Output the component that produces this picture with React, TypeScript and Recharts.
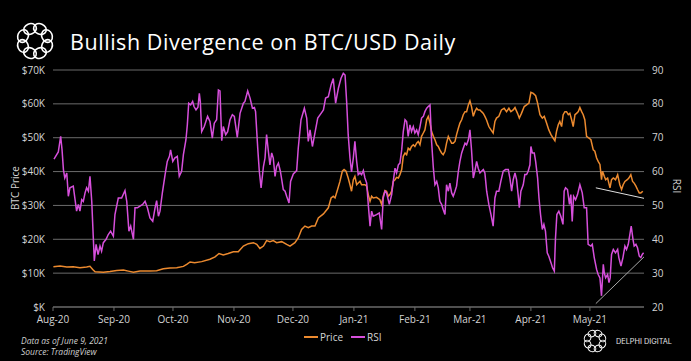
import React from 'react';
import { LineChart, Line, XAxis, YAxis, CartesianGrid, ReferenceLine } from 'recharts';

// X axis: days since 1 Aug 2020
const monthTickDays = [0, 31, 61, 92, 122, 153, 184, 212, 243, 273];
const monthTickLabels = ['Aug-20', 'Sep-20', 'Oct-20', 'Nov-20', 'Dec-20', 'Jan-21', 'Feb-21', 'Mar-21', 'Apr-21', 'May-21'];
const priceTicksK = [0, 10, 20, 30, 40, 50, 60, 70];
const rsiTicks = [20, 30, 40, 50, 60, 70, 80, 90];

const rsiDays = [
  0.5, 2.7, 3.9, 4.6, 5.3, 6.0, 7.0, 7.8, 8.6, 10.3, 12.0, 12.9, 13.7, 14.6, 15.4, 16.3, 17.1, 18.0, 18.8, 19.7,
  20.5, 21.0, 21.9, 22.9, 23.9, 24.7, 25.6, 27.0, 28.1, 29.3, 30.7, 31.5, 33.2, 34.9, 36.6, 37.5, 38.6, 39.5, 40.9, 41.7,
  42.9, 44.2, 45.6, 46.8, 48.0, 49.3, 50.7, 51.9, 52.7, 53.6, 54.4, 55.6, 57.0, 58.1, 59.2, 59.8, 60.9, 61.9, 63.2, 64.2,
  65.4, 66.3, 67.6, 68.3, 69.0, 70.0, 71.0, 71.7, 72.7, 73.7, 74.4, 74.9, 75.6, 76.9, 78.6, 79.8, 81.0, 82.0, 83.2, 84.1,
  84.9, 85.8, 86.6, 87.8, 88.8, 90.0, 91.2, 92.2, 93.7, 95.1, 96.8, 97.6, 99.0, 100.2, 101.4, 102.4, 103.0, 104.1, 104.9, 105.8,
  107.0, 107.8, 108.6, 109.5, 110.3, 111.2, 112.0, 112.9, 113.7, 114.6, 115.6, 116.3, 117.1, 118.0, 118.8, 120.0, 120.8, 122.2, 123.9, 124.7,
  126.1, 127.8, 129.0, 129.8, 130.7, 131.9, 133.2, 134.6, 136.3, 137.5, 138.6, 140.0, 141.4, 142.5, 143.7, 145.1, 146.4, 147.6, 148.5, 149.3,
  150.1, 151.0, 151.8, 152.7, 153.5, 154.4, 155.2, 156.1, 156.9, 157.8, 158.6, 159.5, 160.3, 161.2, 162.0, 162.8, 164.5, 165.9, 167.1, 167.9,
  168.8, 169.6, 171.0, 172.2, 173.0, 173.9, 174.7, 175.6, 176.4, 177.3, 178.1, 179.0, 179.8, 180.6, 181.5, 182.3, 183.2, 184.0, 184.9, 185.7,
  186.6, 187.4, 188.3, 189.1, 190.0, 190.8, 191.7, 192.5, 193.4, 194.2, 195.1, 195.9, 196.7, 197.6, 198.4, 199.3, 200.1, 201.0, 201.8, 202.7,
  203.5, 204.4, 205.2, 206.1, 206.9, 207.8, 208.6, 209.5, 210.3, 211.2, 212.0, 212.8, 213.7, 214.5, 215.4, 216.2, 217.1, 217.9, 218.8, 219.6,
  220.5, 221.6, 222.7, 223.8, 224.7, 225.5, 226.7, 227.7, 228.9, 230.1, 231.5, 232.3, 233.2, 234.0, 234.9, 235.7, 236.5, 237.1, 237.9, 239.1,
  239.9, 240.8, 241.6, 242.5, 243.0, 243.7, 244.7, 245.4, 246.4, 247.1, 247.9, 248.8, 249.6, 250.4, 251.3, 252.1, 253.2, 254.0, 254.9, 255.5,
  256.2, 257.2, 258.2, 259.3, 259.9, 260.6, 261.6, 262.6, 263.3, 264.0, 264.7, 265.7, 266.7, 267.9, 269.1, 270.1, 271.3, 272.1, 273.5, 274.2,
  275.2, 276.4, 277.2, 278.1, 278.9, 279.8, 280.3, 281.0, 282.0, 282.7, 283.3, 284.0, 284.9, 286.0, 287.1, 287.7, 288.8, 289.8, 290.8, 291.6,
  292.5, 293.3, 294.0, 294.9, 295.5, 296.4, 297.2, 298.1, 298.9, 299.6, 300.3,
];
const rsiValues = [
  63.7, 65.8, 70.4, 66.4, 60.6, 58.1, 59.6, 52.7, 55.2, 55.7, 48.3, 50.3, 48.3, 51.7, 51.2, 53.7, 55.2, 54.2, 58.6, 51.2,
  40.4, 33.6, 38.5, 35.5, 38.0, 36.5, 39.0, 40.0, 41.4, 42.4, 40.9, 47.3, 52.2, 52.2, 54.4, 51.2, 42.4, 43.9, 40.0, 49.3,
  49.3, 49.8, 50.3, 51.2, 49.3, 46.3, 45.3, 49.3, 51.4, 46.8, 48.3, 53.7, 59.1, 63.0, 64.5, 66.4, 63.0, 64.0, 64.5, 58.6,
  60.1, 65.0, 69.4, 73.8, 80.2, 79.7, 80.7, 79.2, 78.2, 79.0, 83.1, 80.7, 71.8, 73.3, 76.3, 74.8, 69.9, 74.3, 75.3, 84.1,
  83.8, 69.1, 73.3, 70.9, 71.8, 75.3, 76.8, 76.3, 70.1, 77.2, 80.2, 80.7, 83.8, 81.7, 78.7, 78.9, 77.7, 66.9, 60.1, 55.2,
  61.5, 64.0, 70.9, 66.0, 62.0, 65.5, 64.0, 58.6, 61.5, 62.5, 60.1, 57.6, 54.7, 54.2, 52.7, 50.7, 57.1, 59.3, 60.3, 66.9,
  75.3, 78.7, 75.8, 68.9, 72.3, 67.4, 71.4, 75.8, 77.2, 78.2, 81.7, 82.1, 85.6, 87.5, 80.2, 84.6, 87.5, 89.0, 88.5, 80.7,
  70.9, 64.0, 59.9, 64.0, 68.9, 63.0, 59.1, 59.6, 59.1, 60.3, 58.1, 56.6, 50.3, 43.9, 48.3, 46.8, 47.3, 47.8, 42.9, 52.2,
  54.2, 53.7, 50.3, 53.2, 57.1, 61.0, 59.6, 62.0, 62.5, 66.4, 71.8, 75.3, 74.8, 70.4, 73.8, 71.8, 73.3, 71.4, 72.3, 70.9,
  73.3, 75.8, 76.3, 77.7, 78.7, 79.2, 79.7, 68.9, 61.0, 56.1, 57.1, 55.2, 51.2, 50.3, 48.8, 47.3, 56.1, 54.2, 56.6, 53.7,
  52.7, 54.2, 55.7, 60.1, 63.0, 65.5, 66.9, 68.4, 67.9, 69.4, 72.3, 66.4, 58.1, 60.1, 63.0, 61.0, 59.6, 60.1, 60.6, 59.6,
  54.2, 50.3, 47.3, 43.9, 52.2, 54.2, 54.2, 57.1, 60.1, 60.6, 60.6, 58.1, 54.2, 57.6, 59.6, 57.6, 53.2, 49.3, 54.2, 56.1,
  59.1, 59.1, 60.1, 62.0, 67.4, 65.5, 65.5, 63.0, 58.1, 52.2, 47.3, 42.9, 44.4, 42.4, 36.0, 35.0, 33.1, 31.6, 30.6, 40.4,
  47.3, 48.3, 46.8, 44.4, 54.2, 55.2, 54.7, 50.3, 53.2, 45.3, 52.7, 51.7, 53.2, 56.1, 53.7, 49.3, 49.3, 38.5, 38.0, 38.5,
  34.6, 31.1, 29.6, 28.6, 23.3, 32.6, 30.1, 28.6, 29.6, 27.2, 28.6, 35.5, 37.0, 36.0, 37.0, 34.6, 32.1, 34.6, 38.0, 37.0,
  38.5, 41.4, 43.9, 40.0, 38.0, 38.5, 37.5, 35.0, 34.6, 35.5, 36.0,
];

const priceDays = [
  0.2, 3.6, 7.0, 10.3, 13.7, 17.1, 18.8, 20.2, 21.4, 25.6, 29.0, 32.4, 35.8, 38.3, 40.9, 44.2, 49.3, 52.7, 56.1, 59.5,
  62.9, 66.3, 68.0, 69.7, 72.0, 75.6, 79.8, 82.4, 84.4, 86.6, 89.1, 91.7, 94.2, 96.8, 99.3, 101.9, 103.6, 105.2, 107.0, 108.6,
  110.3, 112.0, 113.7, 116.3, 118.8, 120.5, 123.0, 124.7, 126.4, 128.1, 129.8, 131.5, 133.2, 134.9, 137.5, 140.0, 141.4, 142.5, 143.4, 144.7,
  145.9, 147.1, 148.0, 149.0, 150.1, 151.0, 151.8, 152.7, 153.5, 154.4, 155.2, 156.1, 156.9, 158.6, 159.5, 160.3, 161.2, 162.0, 162.8, 164.5,
  166.2, 167.1, 167.9, 168.8, 169.6, 170.5, 171.3, 172.2, 173.0, 173.9, 174.7, 175.6, 176.4, 177.3, 178.1, 179.0, 179.8, 180.6, 181.5, 182.3,
  183.2, 184.0, 184.9, 185.7, 186.6, 187.4, 188.3, 189.1, 190.0, 190.8, 191.7, 192.5, 193.4, 194.2, 195.1, 195.9, 196.7, 197.6, 198.4, 199.3,
  200.1, 201.0, 201.8, 202.7, 203.5, 204.4, 205.2, 206.1, 206.9, 207.8, 208.6, 209.5, 210.3, 211.2, 212.0, 212.8, 213.7, 214.5, 215.4, 216.2,
  217.1, 217.9, 218.8, 219.6, 220.4, 221.6, 222.7, 223.8, 224.7, 225.5, 226.7, 228.0, 229.4, 230.6, 231.8, 232.8, 234.0, 234.9, 236.2, 237.1,
  238.2, 239.6, 240.8, 242.0, 243.0, 244.2, 245.4, 246.4, 247.6, 248.8, 249.8, 251.0, 252.1, 253.2, 254.3, 255.2, 256.0, 256.9, 257.7, 258.6,
  259.4, 260.3, 261.1, 262.0, 262.8, 263.7, 264.5, 265.4, 266.2, 267.1, 267.9, 268.8, 269.6, 270.4, 271.3, 272.5, 273.5, 274.7, 275.5, 276.4,
  277.2, 278.1, 278.9, 279.4, 280.3, 281.0, 282.0, 283.2, 284.0, 284.9, 286.0, 287.1, 288.2, 289.1, 289.9, 290.8, 292.0, 292.8, 293.8, 294.7,
  295.5, 296.4, 297.2, 298.1, 298.9, 299.9,
];
const priceK = [
  11.9, 12.1, 11.8, 11.9, 11.6, 11.8, 12.0, 11.1, 10.4, 10.3, 10.5, 10.8, 10.9, 10.6, 10.3, 10.6, 10.6, 10.7, 11.3, 11.5,
  11.6, 12.0, 12.6, 13.3, 13.1, 13.4, 14.1, 14.8, 15.8, 15.4, 15.8, 16.3, 16.3, 18.0, 18.7, 19.0, 18.5, 17.3, 18.0, 19.6,
  19.3, 19.6, 19.0, 19.3, 18.5, 18.0, 19.0, 20.4, 22.9, 23.9, 23.4, 23.9, 23.9, 26.3, 27.5, 29.3, 32.2, 32.7, 32.2, 34.7,
  37.1, 40.1, 40.6, 40.1, 38.1, 36.1, 34.2, 37.6, 38.6, 36.1, 36.6, 37.1, 36.1, 36.1, 35.7, 33.2, 31.2, 32.7, 32.2, 32.4,
  31.7, 30.3, 32.7, 34.4, 34.2, 32.7, 33.2, 34.2, 37.1, 37.6, 38.3, 38.1, 39.1, 40.6, 44.5, 45.5, 45.0, 46.9, 46.4, 47.4,
  47.9, 47.4, 48.4, 48.9, 47.9, 50.4, 51.4, 52.3, 55.3, 56.3, 54.3, 51.8, 50.4, 49.4, 47.9, 47.4, 46.4, 45.5, 45.0, 46.0,
  48.4, 50.4, 49.4, 48.4, 48.4, 48.9, 50.9, 52.8, 54.3, 55.3, 56.8, 57.7, 57.7, 59.7, 60.9, 59.2, 56.3, 57.7, 58.7, 58.2,
  58.2, 57.7, 57.2, 56.3, 55.3, 53.3, 52.3, 51.4, 54.8, 55.8, 56.3, 58.2, 58.7, 57.7, 58.7, 57.7, 58.2, 58.9, 57.2, 55.8,
  57.2, 59.2, 59.7, 60.2, 63.4, 63.1, 62.4, 60.2, 56.8, 55.8, 56.3, 54.3, 52.3, 50.9, 49.9, 49.1, 51.8, 53.8, 54.8, 53.3,
  56.8, 57.7, 57.7, 56.8, 57.2, 55.3, 53.3, 56.8, 57.2, 57.7, 58.9, 57.7, 56.8, 55.3, 50.4, 49.9, 49.4, 46.4, 46.0, 44.0,
  43.0, 42.1, 37.6, 40.1, 38.6, 37.6, 38.1, 35.2, 37.6, 38.1, 37.6, 39.1, 36.1, 34.7, 36.1, 37.1, 37.6, 38.1, 39.1, 37.1,
  36.6, 35.7, 34.7, 33.7, 33.7, 34.2,
];

// Hand-drawn divergence trendlines (day, value)
const priceTrendDays = [276, 300.5];
const priceTrendK = [35.2, 32.1];
const rsiTrendDays = [276, 300.5];
const rsiTrendValues = [21.0, 34.8];

const PRICE_COLOR = '#EC8A2F';
const RSI_COLOR = '#D64FDB';
const GRID_COLOR = '#6b6b6b';
const TEXT_COLOR = '#d4d4d4';

type Row = { d: number; price?: number; rsi?: number };

function buildData(): Row[] {
  const map = new Map<number, Row>();
  priceDays.forEach((d, i) => {
    const r = map.get(d) || { d };
    r.price = priceK[i];
    map.set(d, r);
  });
  rsiDays.forEach((d, i) => {
    const r = map.get(d) || { d };
    r.rsi = rsiValues[i];
    map.set(d, r);
  });
  return Array.from(map.values()).sort((a, b) => a.d - b.d);
}

const data = buildData();

function Logo({ cx, cy, ring, r, sw }: { cx: number; cy: number; ring: number; r: number; sw: number }) {
  const circles = [];
  for (let i = 0; i < 8; i++) {
    const a = (Math.PI * 2 * i) / 8 + Math.PI / 8;
    const x = cx + ring * Math.cos(a);
    const y = cy + ring * Math.sin(a);
    circles.push(
      <ellipse
        key={i}
        cx={x}
        cy={y}
        rx={r}
        ry={r * 0.8}
        transform={`rotate(${(a * 180) / Math.PI + 90} ${x} ${y})`}
        fill="none"
        stroke="#fff"
        strokeWidth={sw}
      />
    );
  }
  return <>{circles}</>;
}

export default function App() {
  const monthLabel = (v: number) => {
    const i = monthTickDays.indexOf(v);
    return i >= 0 ? monthTickLabels[i] : '';
  };
  const tickStyle = { fill: TEXT_COLOR, fontSize: 10 };
  return (
    <div
      style={{
        position: 'fixed',
        left: 0,
        top: 0,
        width: 691,
        height: 361,
        background: '#000',
        overflow: 'hidden',
        fontFamily: '"Open Sans", sans-serif',
      }}
    >
      <svg width={691} height={361} style={{ position: 'absolute', left: 0, top: 0 }}>
        <Logo cx={35} cy={41} ring={13} r={6.5} sw={1.6} />
        <Logo cx={595} cy={341} ring={8} r={4} sw={1} />
        <text
          x={616}
          y={343.5}
          fill="#e6e6e6"
          fontSize={7}
          textLength={56}
          lengthAdjust="spacingAndGlyphs"
          fontFamily="Inter, sans-serif"
        >
          DELPHI DIGITAL
        </text>
      </svg>
      <div
        style={{
          position: 'absolute',
          left: 70,
          top: 28,
          color: '#fff',
          fontSize: 21.5,
          letterSpacing: 0.55,
          lineHeight: '28px',
          whiteSpace: 'nowrap',
        }}
      >
        Bullish Divergence on BTC/USD Daily
      </div>
      <div
        style={{
          position: 'absolute',
          left: 15,
          top: 188,
          color: TEXT_COLOR,
          fontSize: 10,
          transform: 'translate(-50%, -50%) rotate(-90deg)',
          whiteSpace: 'nowrap',
        }}
      >
        BTC Price
      </div>
      <div
        style={{
          position: 'absolute',
          left: 677,
          top: 186,
          color: TEXT_COLOR,
          fontSize: 10,
          transform: 'translate(-50%, -50%) rotate(90deg)',
          whiteSpace: 'nowrap',
        }}
      >
        RSI
      </div>
      <div
        style={{
          position: 'absolute',
          left: 21,
          top: 335,
          color: '#cfcfcf',
          fontSize: 8.5,
          fontStyle: 'italic',
          lineHeight: '11px',
          whiteSpace: 'nowrap',
        }}
      >
        Data as of June 9, 2021
        <br />
        Source: TradingView
      </div>
      <div
        style={{
          position: 'absolute',
          left: 304,
          top: 330,
          color: TEXT_COLOR,
          fontSize: 10,
          display: 'flex',
          alignItems: 'center',
          whiteSpace: 'nowrap',
        }}
      >
        <span style={{ display: 'inline-block', width: 14, height: 2, background: PRICE_COLOR, marginRight: 2 }} />
        <span style={{ marginRight: 8 }}>Price</span>
        <span style={{ display: 'inline-block', width: 14, height: 2, background: RSI_COLOR, marginRight: 2 }} />
        <span>RSI</span>
      </div>
      <div style={{ position: 'absolute', left: 0, top: 0 }}>
        <LineChart width={691} height={361} data={data} margin={{ top: 70, right: 7, bottom: 34, left: 8 }}>
          <CartesianGrid horizontal vertical={false} stroke={GRID_COLOR} strokeWidth={1} />
          <XAxis
            dataKey="d"
            type="number"
            domain={[0, 300.5]}
            ticks={monthTickDays}
            tickFormatter={monthLabel}
            interval={0}
            height={20}
            tick={tickStyle}
            stroke={GRID_COLOR}
            tickLine={{ stroke: GRID_COLOR }}
            tickSize={4}
            tickMargin={5}
          />
          <YAxis
            type="number"
            domain={[0, 70]}
            ticks={priceTicksK}
            interval={0}
            width={45}
            axisLine={false}
            tickLine={false}
            tick={tickStyle}
            tickFormatter={(v: number) => (v === 0 ? '$K' : `$${v}K`)}
          />
          <YAxis
            yAxisId="rsi"
            orientation="right"
            type="number"
            domain={[20, 90]}
            ticks={rsiTicks}
            interval={0}
            width={40}
            axisLine={false}
            tickLine={false}
            tick={tickStyle}
          />
          <Line
            dataKey="price"
            name="Price"
            stroke={PRICE_COLOR}
            strokeWidth={1.5}
            dot={false}
            connectNulls
            isAnimationActive={false}
            type="linear"
          />
          <Line
            dataKey="rsi"
            name="RSI"
            yAxisId="rsi"
            stroke={RSI_COLOR}
            strokeWidth={1.5}
            dot={false}
            connectNulls
            isAnimationActive={false}
            type="linear"
          />
          <ReferenceLine
            segment={[
              { x: priceTrendDays[0], y: priceTrendK[0] },
              { x: priceTrendDays[1], y: priceTrendK[1] },
            ]}
            stroke="#e0e0e0"
            strokeWidth={1}
            ifOverflow="visible"
          />
          <ReferenceLine
            yAxisId="rsi"
            segment={[
              { x: rsiTrendDays[0], y: rsiTrendValues[0] },
              { x: rsiTrendDays[1], y: rsiTrendValues[1] },
            ]}
            stroke="#a8a8a8"
            strokeWidth={1}
            ifOverflow="visible"
          />
        </LineChart>
      </div>
    </div>
  );
}
